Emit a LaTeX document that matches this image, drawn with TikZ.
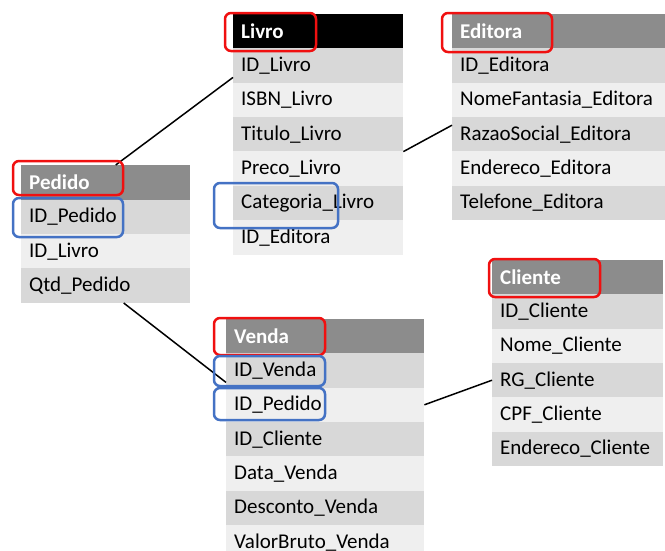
\documentclass[tikz,border=0pt]{standalone}
\usepackage{fontspec}
\setmainfont{Carlito}
\definecolor{hdrgray}{HTML}{8C8C8C}
\definecolor{rowdark}{HTML}{D8D8D8}
\definecolor{rowlight}{HTML}{EFEFEF}
\definecolor{keyred}{HTML}{F01010}
\definecolor{keyblue}{HTML}{4472C4}
\begin{document}
\begin{tikzpicture}[x=1pt,y=-1pt,
  cell/.style={rectangle,anchor=north west,minimum height=34.4pt,inner xsep=8pt,inner ysep=0pt,text width=#1,align=left,font=\fontsize{21}{24}\selectfont},
  hdr/.style={cell=#1,fill=hdrgray,text=white,font=\fontsize{21}{24}\selectfont\bfseries},
  dark/.style={cell=#1,fill=rowdark},
  light/.style={cell=#1,fill=rowlight},
  link/.style={line width=1.5pt},
  redbox/.style={draw=keyred,line width=2.5pt,rounded corners=6pt},
  bluebox/.style={draw=keyblue,line width=2.5pt,rounded corners=6pt}]

  \useasboundingbox (0,0) rectangle (665,550);

  % Pedido
  \node[hdr=153pt] (ph) at (21,165) {Pedido};
  \node[dark=153pt] (p1) at (21,199.4) {ID\_Pedido};
  \node[light=153pt] (p2) at (21,233.8) {ID\_Livro};
  \node[dark=153pt] (p3) at (21,268.2) {Qtd\_Pedido};

  % Livro
  \node[hdr=154pt,fill=black] (lh) at (233,13.6) {Livro};
  \node[dark=154pt] (l1) at (233,48) {ID\_Livro};
  \node[light=154pt] (l2) at (233,82.4) {ISBN\_Livro};
  \node[dark=154pt] (l3) at (233,116.8) {Titulo\_Livro};
  \node[light=154pt] (l4) at (233,151.2) {Preco\_Livro};
  \node[dark=154pt] (l5) at (233,185.6) {Categoria\_Livro};
  \node[light=154pt] (l6) at (233,220) {ID\_Editora};

  % Editora
  \node[hdr=197pt] (eh) at (452,13.6) {Editora};
  \node[dark=197pt] (e1) at (452,48) {ID\_Editora};
  \node[light=197pt] (e2) at (452,82.4) {NomeFantasia\_Editora};
  \node[dark=197pt] (e3) at (452,116.8) {RazaoSocial\_Editora};
  \node[light=197pt] (e4) at (452,151.2) {Endereco\_Editora};
  \node[dark=197pt] (e5) at (452,185.6) {Telefone\_Editora};

  % Venda
  \node[hdr=182pt] (vh) at (226,318.6) {Venda};
  \node[dark=182pt] (v1) at (226,353) {ID\_Venda};
  \node[light=182pt] (v2) at (226,387.4) {ID\_Pedido};
  \node[dark=182pt] (v3) at (226,421.8) {ID\_Cliente};
  \node[light=182pt] (v4) at (226,456.2) {Data\_Venda};
  \node[dark=182pt] (v5) at (226,490.6) {Desconto\_Venda};
  \node[light=182pt] (v6) at (226,525) {ValorBruto\_Venda};

  % Cliente
  \node[hdr=155pt] (ch) at (492,259.6) {Cliente};
  \node[dark=155pt] (c1) at (492,294) {ID\_Cliente};
  \node[light=155pt] (c2) at (492,328.4) {Nome\_Cliente};
  \node[dark=155pt] (c3) at (492,362.8) {RG\_Cliente};
  \node[light=155pt] (c4) at (492,397.2) {CPF\_Cliente};
  \node[dark=155pt] (c5) at (492,431.6) {Endereco\_Cliente};

  % ligacoes
  \draw[link] ([xshift=10pt]ph.north) -- ([yshift=-12pt]l1.west);
  \draw[link] ([xshift=18pt]p3.south) -- ([yshift=-12pt]v1.west);
  \draw[link] (l3.south east) -- ([yshift=9pt]e3.west);
  \draw[link] (v2.east) -- (c3.west);

  % chaves
  \draw[redbox] (13,161) rectangle (123,195);
  \draw[redbox] (225,13) rectangle (316,51);
  \draw[redbox] (442,13) rectangle (552,52);
  \draw[redbox] (214,318) rectangle (325,355);
  \draw[redbox] (489,259) rectangle (600,297);
  \draw[bluebox] (13,198) rectangle (123,237);
  \draw[bluebox] (214,183) rectangle (338,228);
  \draw[bluebox] (214,356) rectangle (325,386);
  \draw[bluebox] (214,388) rectangle (325,420);
\end{tikzpicture}
\end{document}
